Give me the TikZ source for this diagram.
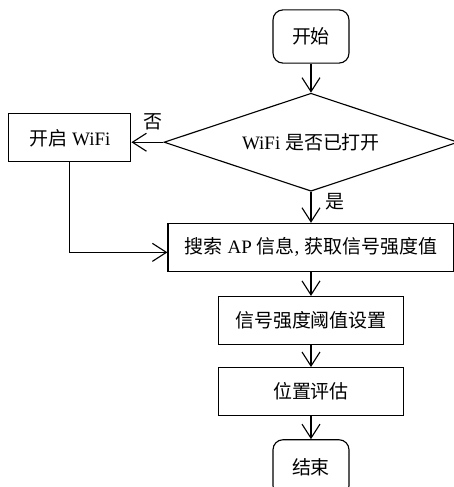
\documentclass[tikz,border=0pt]{standalone}
\usepackage{fontspec}
\setmainfont{Liberation Serif}
\newfontfamily\cjk{Noto Sans CJK SC}
\newcommand{\zh}[1]{{\cjk #1}}
\usetikzlibrary{shapes.geometric, arrows.meta, positioning}

\begin{document}
\begin{tikzpicture}[node distance=0.6cm, auto, line width=0.8pt,
        font=\fontsize{13.5}{16}\selectfont,
        startstop/.style={rectangle, draw, rounded corners=0.25cm, minimum width=1.9cm, minimum height=1.33cm, inner sep=0pt},
        block/.style={rectangle, draw, minimum height=1.2cm, inner sep=0pt},
        decision/.style={diamond, draw, aspect=3, minimum width=7.35cm, minimum height=2.45cm, inner sep=0pt},
        line/.style={draw, -{Straight Barb[length=3.5mm, width=4.5mm]}}]

        \useasboundingbox (-7.775,0.9125) rectangle (3.575,-11.2625);

        % Nodes
        \node [startstop] (start) {\zh{开始}};
        \node [decision, below=0.725cm of start] (wifion) {WiFi \zh{是否已打开}};
        \node [block, minimum width=3.05cm, left=0.8cm of wifion, yshift=0.11cm] (openwifi) {\zh{开启} WiFi};
        \node [block, minimum width=7.15cm, below=0.775cm of wifion] (scan) {\zh{搜索} AP \zh{信息}, \zh{获取信号强度值}};
        \node [block, minimum width=4.625cm, below=of scan] (thresh) {\zh{信号强度阈值设置}};
        \node [block, minimum width=4.625cm, below=0.55cm of thresh] (locate) {\zh{位置评估}};
        \node [startstop, minimum height=1.4cm, below=0.575cm of locate] (stop) {\zh{结束}};

        % Edges
        \path [line] (start) -- (wifion);
        \path [line] (wifion.west) -- node[pos=0, anchor=south east, inner sep=0pt, yshift=0.3cm] {\zh{否}} (wifion.west -| openwifi.east);
        \path [line] (wifion) -- node[pos=0.32, anchor=west, inner sep=0pt, xshift=0.35cm] {\zh{是}} (scan);
        \path [line] (openwifi) |- ([yshift=-0.125cm]scan.west);
        \path [line] (scan) -- (thresh);
        \path [line] (thresh) -- (locate);
        \path [line] (locate) -- (stop);
    \end{tikzpicture}
\end{document}
